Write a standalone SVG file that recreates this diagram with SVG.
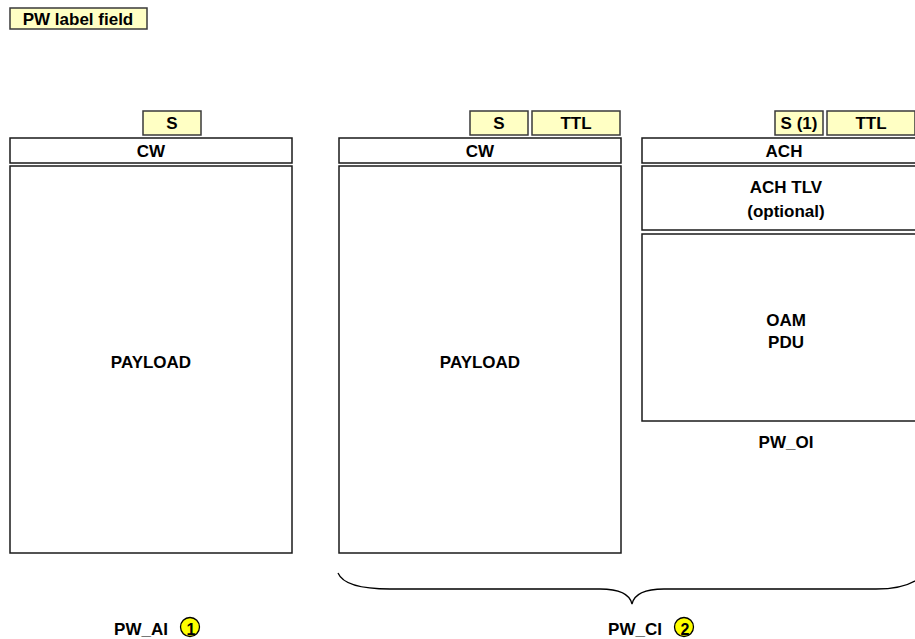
<svg xmlns="http://www.w3.org/2000/svg" width="915" height="639" viewBox="0 0 915 639">
<style>
.box{fill:#ffffff;stroke:#1a1a1a;stroke-width:1.5}
.lbl{fill:#ffffc4;stroke:#3a3a3a;stroke-width:1.5}
.t{font-family:"Liberation Sans",Arial,sans-serif;font-weight:bold;font-size:17px;fill:#000;text-anchor:middle;dominant-baseline:central}
.num{fill:#ffff00;stroke:#000;stroke-width:1.3}
.n{font-family:"Liberation Sans",Arial,sans-serif;font-weight:bold;font-size:16px;fill:#000;text-anchor:middle;dominant-baseline:central}
</style>
<rect width="915" height="639" fill="#ffffff"/>
<g id="legend">
<rect class="lbl" x="10" y="8" width="137" height="21"/>
<text class="t" x="78" y="19">PW label field</text>
</g>
<g id="pw_ai">
<g id="ai_s"><rect class="lbl" x="143" y="111" width="58" height="24"/><text class="t" x="172" y="123">S</text></g>
<g id="ai_cw"><rect class="box" x="10" y="138" width="282" height="25"/><text class="t" x="151" y="151">CW</text></g>
<g id="ai_payload"><rect class="box" x="10" y="166" width="282" height="387"/><text class="t" x="151" y="362">PAYLOAD</text></g>
</g>
<g id="pw_ci_data">
<g id="ci_s"><rect class="lbl" x="470" y="111" width="58" height="24"/><text class="t" x="499" y="123">S</text></g>
<g id="ci_ttl"><rect class="lbl" x="532" y="111" width="88" height="24"/><text class="t" x="576" y="123">TTL</text></g>
<g id="ci_cw"><rect class="box" x="339" y="138" width="282" height="25"/><text class="t" x="480" y="151">CW</text></g>
<g id="ci_payload"><rect class="box" x="339" y="166" width="282" height="387"/><text class="t" x="480" y="362">PAYLOAD</text></g>
</g>
<g id="pw_oi">
<g id="oi_s"><rect class="lbl" x="775" y="111" width="48" height="24"/><text class="t" x="799" y="123">S (1)</text></g>
<g id="oi_ttl"><rect class="lbl" x="827" y="111" width="88" height="24"/><text class="t" x="871" y="123">TTL</text></g>
<g id="oi_ach"><rect class="box" x="642" y="138" width="290" height="25"/><text class="t" x="784" y="151">ACH</text></g>
<g id="oi_tlv"><rect class="box" x="642" y="166" width="290" height="64"/><text class="t" x="786" y="187">ACH TLV</text><text class="t" x="786" y="211">(optional)</text></g>
<g id="oi_pdu"><rect class="box" x="642" y="234" width="290" height="187"/><text class="t" x="786" y="320">OAM</text><text class="t" x="786" y="342">PDU</text></g>
<text class="t" x="786" y="442">PW_OI</text>
</g>
<g id="connectors">
<path d="M338,573 C343,585 365,589 390,589 L600,589 C620,589 630,595 632,604 C634,595 644,589 664,589 L876,589 C895,589 908,586 918,579" fill="none" stroke="#000" stroke-width="1.3"/>
</g>
<g id="label_ai">
<text class="t" x="141" y="629">PW_AI</text>
<circle class="num" cx="190" cy="627" r="9.5"/>
<text class="n" x="191" y="629">1</text>
</g>
<g id="label_ci">
<text class="t" x="635" y="629">PW_CI</text>
<circle class="num" cx="684" cy="627" r="9.5"/>
<text class="n" x="685" y="629">2</text>
</g>
</svg>
